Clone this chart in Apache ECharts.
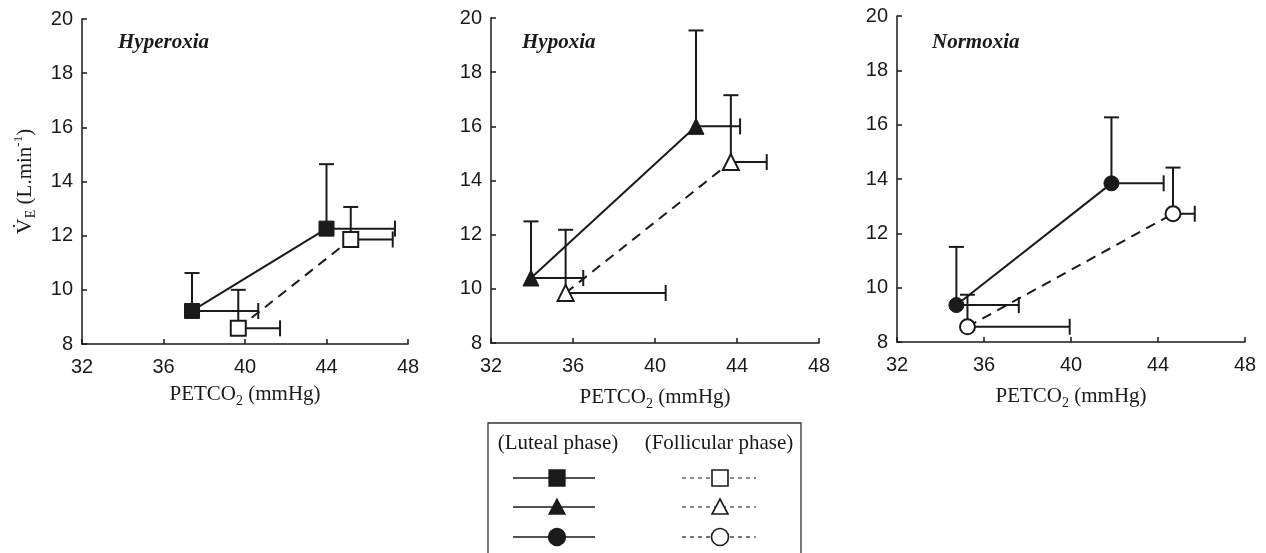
<!DOCTYPE html>
<html><head><meta charset="utf-8">
<script src="https://cdn.jsdelivr.net/npm/echarts@6/dist/echarts.min.js"></script>
<style>html,body{margin:0;padding:0;background:#fff}#c{width:1266px;height:553px}</style>
</head><body><div id="c"></div>
<script>
const panelTitles = ['Hyperoxia', 'Hypoxia', 'Normoxia'];
const xTickValues = [32, 36, 40, 44, 48];
const yTickValues = [8, 10, 12, 14, 16, 18, 20];
const legendHeaders = ['(Luteal phase)', '(Follicular phase)'];

// means [PETCO2 (mmHg), VE (L/min)], with one-sided SD (x to the right, y upward)
const hyperoxiaLuteal = [[37.4, 9.22], [44.0, 12.26]];
const hyperoxiaLutealXErr = [3.25, 3.36];
const hyperoxiaLutealYErr = [1.40, 2.38];
const hyperoxiaFollicular = [[39.67, 8.58], [45.19, 11.86]];
const hyperoxiaFollicularXErr = [2.05, 2.06];
const hyperoxiaFollicularYErr = [1.42, 1.20];

const hypoxiaLuteal = [[33.95, 10.40], [42.0, 16.0]];
const hypoxiaLutealXErr = [2.55, 2.15];
const hypoxiaLutealYErr = [2.09, 3.54];
const hypoxiaFollicular = [[35.64, 9.85], [43.7, 14.68]];
const hypoxiaFollicularXErr = [4.88, 1.75];
const hypoxiaFollicularYErr = [2.33, 2.47];

const normoxiaLuteal = [[34.73, 9.36], [41.86, 13.84]];
const normoxiaLutealXErr = [2.87, 2.40];
const normoxiaLutealYErr = [2.14, 2.43];
const normoxiaFollicular = [[35.24, 8.56], [44.69, 12.72]];
const normoxiaFollicularXErr = [4.70, 1.00];
const normoxiaFollicularYErr = [1.18, 1.70];

const panels = [
  {lut: hyperoxiaLuteal, lutX: hyperoxiaLutealXErr, lutY: hyperoxiaLutealYErr,
   fol: hyperoxiaFollicular, folX: hyperoxiaFollicularXErr, folY: hyperoxiaFollicularYErr, sym: 'rect', size: 15},
  {lut: hypoxiaLuteal, lutX: hypoxiaLutealXErr, lutY: hypoxiaLutealYErr,
   fol: hypoxiaFollicular, folX: hypoxiaFollicularXErr, folY: hypoxiaFollicularYErr, sym: 'triangle', size: 16},
  {lut: normoxiaLuteal, lutX: normoxiaLutealXErr, lutY: normoxiaLutealYErr,
   fol: normoxiaFollicular, folX: normoxiaFollicularXErr, folY: normoxiaFollicularYErr, sym: 'circle', size: 15}
];

const grids = [
  {left: 82, top: 19, width: 326, height: 325},
  {left: 491, top: 18, width: 328, height: 325},
  {left: 897, top: 16, width: 348, height: 326}
];
const titleLeft = [113, 517, 927];
const xNameGap = [36, 40, 40];

const INK = '#1a1a1a';
const SANS = 'Liberation Sans';
const SERIF = 'Liberation Serif';

function errRender(params, api) {
  const x = api.value(0), y = api.value(1), ex = api.value(2), ey = api.value(3);
  const p = api.coord([x, y]);
  const pu = api.coord([x, y + ey]);
  const pr = api.coord([x + ex, y]);
  const st = {stroke: INK, lineWidth: 2};
  return {type: 'group', children: [
    {type: 'line', shape: {x1: p[0], y1: p[1], x2: pu[0], y2: pu[1]}, style: st},
    {type: 'line', shape: {x1: pu[0] - 7.5, y1: pu[1], x2: pu[0] + 7.5, y2: pu[1]}, style: st},
    {type: 'line', shape: {x1: p[0], y1: p[1], x2: pr[0], y2: pr[1]}, style: st},
    {type: 'line', shape: {x1: pr[0], y1: pr[1] - 8, x2: pr[0], y2: pr[1] + 8}, style: st}
  ]};
}

const xAxes = [], yAxes = [], series = [], titles = [];
panels.forEach((pn, i) => {
  xAxes.push({
    type: 'value', gridIndex: i,
    min: xTickValues[0], max: xTickValues[xTickValues.length - 1],
    interval: xTickValues[1] - xTickValues[0],
    axisLine: {show: true, lineStyle: {color: INK, width: 1.5}},
    axisTick: {show: true, inside: true, length: 5, lineStyle: {color: INK, width: 1.5}},
    splitLine: {show: false},
    axisLabel: {color: INK, fontFamily: SANS, fontSize: 20, margin: 13},
    name: '{n|PETCO}{s|2}{n| (mmHg)}',
    nameLocation: 'middle', nameGap: xNameGap[i],
    nameTextStyle: {rich: {
      n: {fontFamily: SERIF, fontSize: 21, color: INK, lineHeight: 28},
      s: {fontFamily: SERIF, fontSize: 14, color: INK, verticalAlign: 'bottom', lineHeight: 20}
    }}
  });
  yAxes.push({
    type: 'value', gridIndex: i,
    min: yTickValues[0], max: yTickValues[yTickValues.length - 1],
    interval: yTickValues[1] - yTickValues[0],
    axisLine: {show: true, lineStyle: {color: INK, width: 1.5}},
    axisTick: {show: true, inside: true, length: 5, lineStyle: {color: INK, width: 1.5}},
    splitLine: {show: false},
    axisLabel: {color: INK, fontFamily: SANS, fontSize: 20, margin: 9},
    name: i === 0 ? '{v|V\u0307}{s|E}{n| (L.min}{p|-1}{n|)}' : '',
    nameLocation: 'middle', nameGap: 44, nameRotate: 90,
    nameTextStyle: {rich: {
      v: {fontFamily: SERIF, fontSize: 22, color: INK, lineHeight: 26},
      n: {fontFamily: SERIF, fontSize: 21, color: INK, lineHeight: 26},
      s: {fontFamily: SERIF, fontSize: 14, color: INK, verticalAlign: 'bottom', lineHeight: 18},
      p: {fontFamily: SERIF, fontSize: 13, color: INK, verticalAlign: 'top', lineHeight: 18}
    }}
  });
  titles.push({
    text: panelTitles[i], left: titleLeft[i], top: 27,
    textStyle: {fontFamily: SERIF, fontStyle: 'italic', fontWeight: 'bold', fontSize: 21, color: INK}
  });
  const lutErr = pn.lut.map((d, k) => [d[0], d[1], pn.lutX[k], pn.lutY[k]]);
  const folErr = pn.fol.map((d, k) => [d[0], d[1], pn.folX[k], pn.folY[k]]);
  series.push({type: 'custom', xAxisIndex: i, yAxisIndex: i, data: lutErr, renderItem: errRender, z: 1, silent: true});
  series.push({type: 'custom', xAxisIndex: i, yAxisIndex: i, data: folErr, renderItem: errRender, z: 1, silent: true});
  series.push({
    type: 'line', xAxisIndex: i, yAxisIndex: i, data: pn.lut, z: 3,
    symbol: pn.sym, symbolSize: pn.size, showSymbol: true,
    lineStyle: {color: INK, width: 2, type: 'solid'},
    itemStyle: {color: INK, borderColor: INK, borderWidth: 1},
    animation: false
  });
  series.push({
    type: 'line', xAxisIndex: i, yAxisIndex: i, data: pn.fol, z: 3,
    symbol: pn.sym, symbolSize: pn.size, showSymbol: true,
    lineStyle: {color: INK, width: 2, type: [10, 7]},
    itemStyle: {color: '#fff', borderColor: INK, borderWidth: 2},
    animation: false
  });
});

// legend box drawn with graphic elements
const legendSymbols = ['rect', 'triangle', 'circle'];
const rowY = [478, 507, 537];
const g = [];
g.push({type: 'rect', shape: {x: 488, y: 423, width: 313, height: 200}, style: {fill: '#fff', stroke: '#333', lineWidth: 1.3}, z: 10});
g.push({type: 'text', x: 558, y: 443, style: {text: legendHeaders[0], font: '21px "Liberation Serif"', fill: INK, textAlign: 'center', textVerticalAlign: 'middle'}, z: 11});
g.push({type: 'text', x: 719, y: 443, style: {text: legendHeaders[1], font: '21px "Liberation Serif"', fill: INK, textAlign: 'center', textVerticalAlign: 'middle'}, z: 11});
function legendMark(kind, cx, cy, filled) {
  const st = {fill: filled ? INK : '#fff', stroke: INK, lineWidth: filled ? 1.3 : 1.6};
  if (kind === 'rect') return {type: 'rect', shape: {x: cx - 8, y: cy - 8, width: 16, height: 16}, style: st, z: 12};
  if (kind === 'triangle') return {type: 'polygon', shape: {points: [[cx, cy - 8], [cx + 8, cy + 7], [cx - 8, cy + 7]]}, style: st, z: 12};
  return {type: 'circle', shape: {cx: cx, cy: cy, r: 8.5}, style: st, z: 12};
}
legendSymbols.forEach((s, r) => {
  const y = rowY[r];
  g.push({type: 'line', shape: {x1: 513, y1: y, x2: 595, y2: y}, style: {stroke: INK, lineWidth: 1.5}, z: 11});
  g.push(legendMark(s, 557, y, true));
  g.push({type: 'line', shape: {x1: 682, y1: y, x2: 756, y2: y}, style: {stroke: INK, lineWidth: 1.2, lineDash: [4, 4]}, z: 11});
  g.push(legendMark(s, 720, y, false));
});

const chart = echarts.init(document.getElementById('c'), null, {renderer: 'canvas'});
chart.setOption({
  animation: false,
  backgroundColor: '#fff',
  title: titles,
  grid: grids,
  xAxis: xAxes,
  yAxis: yAxes,
  series: series,
  graphic: g
});
</script></body></html>
